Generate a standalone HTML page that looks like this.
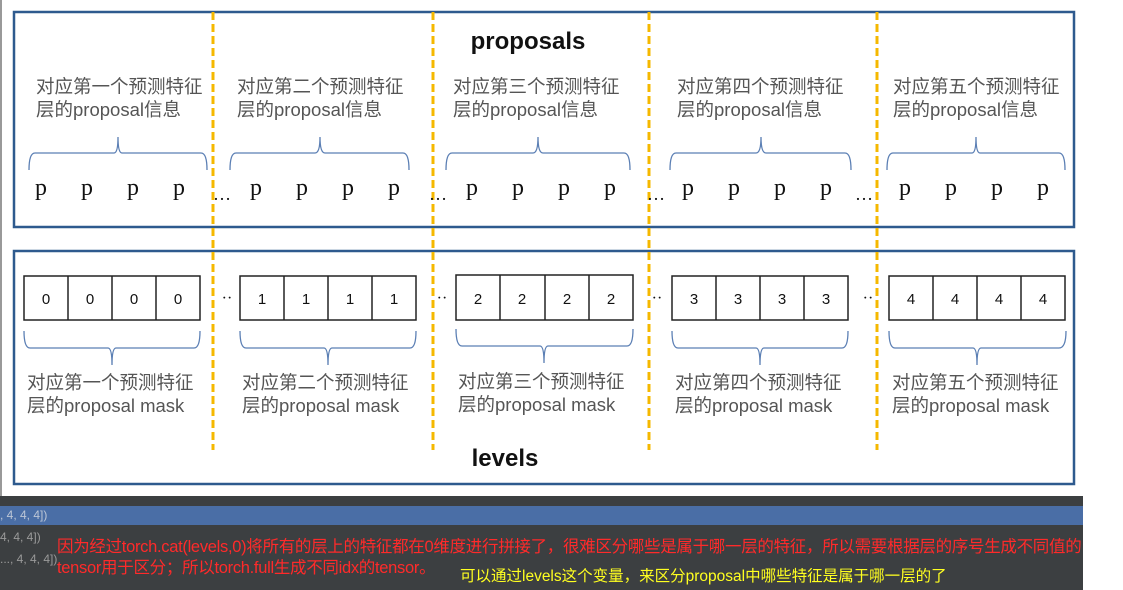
<!DOCTYPE html>
<html><head><meta charset="utf-8"><style>
body{margin:0;background:#fff;width:1123px;height:590px;overflow:hidden;position:relative}
svg{position:absolute;left:0;top:0}
.lab{font-family:"Liberation Sans","Noto Sans CJK SC",sans-serif;font-size:18.5px;fill:#555}
.p{font-family:"Liberation Serif",serif;font-size:24px;fill:#111}
.n{font-family:"Liberation Sans",sans-serif;font-size:15px;fill:#111}
.t{font-family:"Liberation Sans","Noto Sans CJK SC",sans-serif;font-weight:bold;font-size:24px;fill:#111}
#bar{position:absolute;left:0;top:496px;width:1083px;height:94px;background:#3c3f41}
#blue{position:absolute;left:0;top:506px;width:1083px;height:19px;background:#4a6ea6;color:#bcc6d6;font:12px "Liberation Sans",sans-serif;line-height:19px}
.g{position:absolute;color:#9a9a9a;font:12px "Liberation Sans",sans-serif}
#red{position:absolute;left:57px;top:537px;width:1040px;color:#ff2a2a;font:16.5px "Liberation Sans","Noto Sans CJK SC",sans-serif;line-height:21px;letter-spacing:-0.3px;white-space:nowrap}
#yel{position:absolute;left:460px;top:564px;color:#ffff20;font:15.5px "Liberation Sans","Noto Sans CJK SC",sans-serif;white-space:nowrap}
</style></head><body>
<svg width="1123" height="500" viewBox="0 0 1123 500">
<rect x="0" y="0" width="2" height="500" fill="#999"/>
<rect x="14" y="12" width="1060" height="215" fill="none" stroke="#2e5a8e" stroke-width="2.5"/>
<rect x="14" y="251" width="1060" height="233" fill="none" stroke="#2e5a8e" stroke-width="2.5"/>
<g stroke="#f5b800" stroke-width="3" stroke-dasharray="8,4">
<line x1="213" y1="12" x2="213" y2="450"/><line x1="433" y1="12" x2="433" y2="450"/><line x1="649" y1="12" x2="649" y2="450"/><line x1="877" y1="12" x2="877" y2="450"/>
</g>
<text x="528" y="49" class="t" text-anchor="middle">proposals</text>
<text x="505" y="466" class="t" text-anchor="middle">levels</text>
<g class="lab">
<text x="36" y="93">对应第一个预测特征</text><text x="36" y="116">层的proposal信息</text>
<text x="237" y="93">对应第二个预测特征</text><text x="237" y="116">层的proposal信息</text>
<text x="453" y="93">对应第三个预测特征</text><text x="453" y="116">层的proposal信息</text>
<text x="677" y="93">对应第四个预测特征</text><text x="677" y="116">层的proposal信息</text>
<text x="893" y="93">对应第五个预测特征</text><text x="893" y="116">层的proposal信息</text>
<text x="27" y="389">对应第一个预测特征</text><text x="27" y="412">层的proposal mask</text>
<text x="242" y="389">对应第二个预测特征</text><text x="242" y="412">层的proposal mask</text>
<text x="458" y="388">对应第三个预测特征</text><text x="458" y="411">层的proposal mask</text>
<text x="675" y="389">对应第四个预测特征</text><text x="675" y="412">层的proposal mask</text>
<text x="892" y="389">对应第五个预测特征</text><text x="892" y="412">层的proposal mask</text>
</g>
<g fill="none" stroke="#5b7fb4" stroke-width="1.3">
<path d="M29,170 Q29,153 35,153 L114,153 Q118,153 118,137 Q118,153 122,153 L201,153 Q207,153 207,170"/>
<path d="M230,170 Q230,153 236,153 L315,153 Q320,153 320,137 Q320,153 325,153 L403,153 Q409,153 409,170"/>
<path d="M446,170 Q446,153 452,153 L533,153 Q538,153 538,137 Q538,153 543,153 L624,153 Q630,153 630,170"/>
<path d="M670,170 Q670,153 676,153 L756,153 Q761,153 761,137 Q761,153 766,153 L845,153 Q851,153 851,170"/>
<path d="M887,170 Q887,153 893,153 L972,153 Q976,153 976,137 Q976,153 980,153 L1059,153 Q1065,153 1065,170"/>
<path d="M24,331 Q24,348 30,348 L108,348 Q112,348 112,365 Q112,348 116,348 L194,348 Q200,348 200,331"/>
<path d="M240,331 Q240,348 246,348 L324,348 Q328,348 328,365 Q328,348 332,348 L410,348 Q416,348 416,331"/>
<path d="M456,329 Q456,346 462,346 L540,346 Q544,346 544,363 Q544,346 548,346 L627,346 Q633,346 633,329"/>
<path d="M672,331 Q672,348 678,348 L756,348 Q760,348 760,365 Q760,348 764,348 L842,348 Q848,348 848,331"/>
<path d="M889,331 Q889,348 895,348 L973,348 Q977,348 977,365 Q977,348 981,348 L1059,348 Q1066,348 1066,331"/>
</g>
<g class="p" text-anchor="middle">
<text x="41" y="195">p</text><text x="87" y="195">p</text><text x="133" y="195">p</text><text x="179" y="195">p</text>
<text x="256" y="195">p</text><text x="302" y="195">p</text><text x="348" y="195">p</text><text x="394" y="195">p</text>
<text x="472" y="195">p</text><text x="518" y="195">p</text><text x="564" y="195">p</text><text x="610" y="195">p</text>
<text x="688" y="195">p</text><text x="734" y="195">p</text><text x="780" y="195">p</text><text x="826" y="195">p</text>
<text x="905" y="195">p</text><text x="951" y="195">p</text><text x="997" y="195">p</text><text x="1043" y="195">p</text>
<text x="222" y="200" font-size="18">…</text><text x="438" y="200" font-size="18">…</text><text x="656" y="200" font-size="18">…</text><text x="864" y="200" font-size="18">…</text>
<text x="227" y="303" font-size="16">··</text><text x="442" y="303" font-size="16">··</text><text x="657" y="303" font-size="16">··</text><text x="868" y="303" font-size="16">··</text>
</g>
<g fill="#fff" stroke="#222" stroke-width="1.5">
<rect x="24" y="276" width="176" height="44"/><line x1="68" y1="276" x2="68" y2="320"/><line x1="112" y1="276" x2="112" y2="320"/><line x1="156" y1="276" x2="156" y2="320"/>
<rect x="240" y="276" width="176" height="44"/><line x1="284" y1="276" x2="284" y2="320"/><line x1="328" y1="276" x2="328" y2="320"/><line x1="372" y1="276" x2="372" y2="320"/>
<rect x="456" y="275" width="177" height="45"/><line x1="500" y1="275" x2="500" y2="320"/><line x1="545" y1="275" x2="545" y2="320"/><line x1="589" y1="275" x2="589" y2="320"/>
<rect x="672" y="276" width="176" height="44"/><line x1="716" y1="276" x2="716" y2="320"/><line x1="760" y1="276" x2="760" y2="320"/><line x1="804" y1="276" x2="804" y2="320"/>
<rect x="889" y="276" width="176" height="44"/><line x1="933" y1="276" x2="933" y2="320"/><line x1="977" y1="276" x2="977" y2="320"/><line x1="1021" y1="276" x2="1021" y2="320"/>
</g>
<g class="n" text-anchor="middle">
<text x="46" y="304">0</text><text x="90" y="304">0</text><text x="134" y="304">0</text><text x="178" y="304">0</text>
<text x="262" y="304">1</text><text x="306" y="304">1</text><text x="350" y="304">1</text><text x="394" y="304">1</text>
<text x="478" y="304">2</text><text x="522" y="304">2</text><text x="567" y="304">2</text><text x="611" y="304">2</text>
<text x="694" y="304">3</text><text x="738" y="304">3</text><text x="782" y="304">3</text><text x="826" y="304">3</text>
<text x="911" y="304">4</text><text x="955" y="304">4</text><text x="999" y="304">4</text><text x="1043" y="304">4</text>
</g>
</svg>
<div id="bar"></div>
<div id="blue">, 4, 4, 4])</div>
<div class="g" style="left:0;top:530px">4, 4, 4])</div>
<div class="g" style="left:0;top:552px">..., 4, 4, 4])</div>
<div id="red">因为经过torch.cat(levels,0)将所有的层上的特征都在0维度进行拼接了，很难区分哪些是属于哪一层的特征，所以需要根据层的序号生成不同值的<br>tensor用于区分；所以torch.full生成不同idx的tensor。</div>
<div id="yel">可以通过levels这个变量，来区分proposal中哪些特征是属于哪一层的了</div>
</body></html>
